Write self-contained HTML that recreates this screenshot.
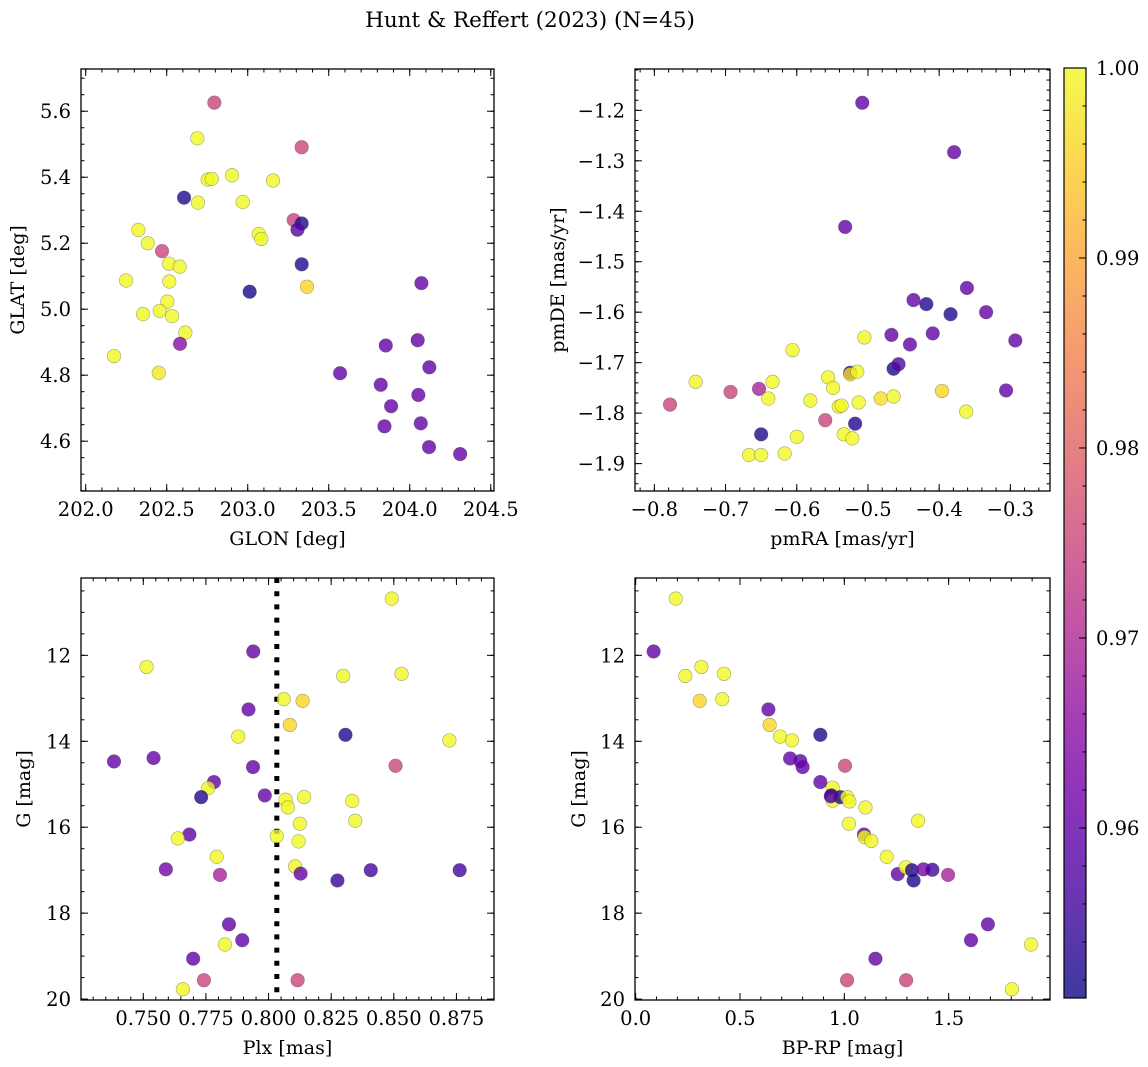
<!DOCTYPE html>
<html><head><meta charset="utf-8"><style>
html,body{margin:0;padding:0;background:#fff;}
svg{display:block;font-family:"DejaVu Serif","Liberation Serif",serif;}
</style></head><body>
<svg id="fig" width="1148" height="1067" viewBox="0 0 1148 1067" xmlns="http://www.w3.org/2000/svg">
<text x="530" y="27" text-anchor="middle" font-size="21.5">Hunt &amp; Reffert (2023) (N=45)</text>
<defs><linearGradient id="cbgrad" x1="0" y1="1" x2="0" y2="0"></linearGradient></defs>
</svg>
<script>
// ---- data (value codes: membership probability) ----
const p1Glon=[202.794,202.689,203.333,202.753,202.778,202.903,203.156,202.607,202.693,202.969,203.284,203.333,203.307,203.068,203.084,202.325,202.383,202.471,202.514,202.580,203.333,202.249,202.516,203.012,203.366,204.072,202.504,202.457,202.354,202.533,202.615,202.582,202.175,202.451,204.049,203.852,204.121,203.570,203.821,204.053,203.885,203.844,204.068,204.119,204.311];
const p1Glat=[5.626,5.518,5.491,5.393,5.395,5.406,5.390,5.338,5.323,5.325,5.270,5.260,5.241,5.228,5.213,5.240,5.200,5.176,5.138,5.129,5.136,5.087,5.084,5.053,5.068,5.079,5.023,4.995,4.985,4.979,4.929,4.895,4.858,4.807,4.906,4.890,4.824,4.806,4.771,4.740,4.706,4.645,4.654,4.582,4.561];
const p1Prob=[0.975,1,0.975,1,1,1,1,0.953,1,1,0.975,0.953,0.958,1,1,1,1,0.975,1,1,0.953,1,1,0.952,0.996,0.960,1,1,1,1,1,0.965,1,0.998,0.960,0.960,0.960,0.960,0.960,0.960,0.960,0.960,0.960,0.960,0.960];

const p2Pmra=[-0.508,-0.379,-0.532,-0.361,-0.436,-0.418,-0.384,-0.334,-0.505,-0.467,-0.409,-0.441,-0.293,-0.606,-0.464,-0.457,-0.525,-0.525,-0.515,-0.556,-0.742,-0.634,-0.549,-0.693,-0.653,-0.396,-0.306,-0.640,-0.581,-0.482,-0.464,-0.778,-0.541,-0.537,-0.513,-0.362,-0.560,-0.518,-0.650,-0.600,-0.534,-0.522,-0.667,-0.650,-0.617];
const p2Pmde=[-1.185,-1.283,-1.431,-1.552,-1.576,-1.584,-1.604,-1.600,-1.650,-1.645,-1.642,-1.664,-1.656,-1.675,-1.712,-1.703,-1.720,-1.723,-1.718,-1.729,-1.738,-1.738,-1.750,-1.758,-1.752,-1.756,-1.755,-1.771,-1.775,-1.771,-1.767,-1.783,-1.787,-1.785,-1.779,-1.797,-1.814,-1.821,-1.842,-1.847,-1.842,-1.850,-1.883,-1.883,-1.880];
const p2Prob=[0.960,0.960,0.960,0.960,0.960,0.953,0.953,0.960,1,0.960,0.960,0.960,0.960,1,0.953,0.958,0.953,0.996,1,1,1,1,1,0.975,0.969,0.996,0.960,1,1,0.997,1,0.975,1,1,1,1,0.975,0.953,0.953,1,1,1,1,1,1];

const p3Plx=[0.8492,0.7939,0.7513,0.8298,0.8531,0.8061,0.8136,0.7920,0.8085,0.8307,0.7879,0.8722,0.7383,0.7541,0.7938,0.8507,0.7782,0.7759,0.7731,0.7985,0.8068,0.8077,0.8142,0.8334,0.8346,0.8125,0.7684,0.7638,0.8033,0.8120,0.7793,0.7590,0.7806,0.8106,0.8128,0.8275,0.8408,0.8763,0.7842,0.7895,0.7826,0.7699,0.7742,0.8116,0.7658];
const p3G=[10.68,11.91,12.27,12.48,12.43,13.02,13.06,13.26,13.62,13.85,13.89,13.98,14.47,14.39,14.60,14.57,14.95,15.09,15.30,15.26,15.36,15.54,15.30,15.39,15.85,15.92,16.17,16.26,16.21,16.33,16.69,16.98,17.11,16.91,17.08,17.24,17.00,17.00,18.26,18.63,18.73,19.06,19.56,19.56,19.77];
const p3Prob=[1,0.960,1,1,1,1,0.996,0.960,0.996,0.953,1,1,0.960,0.960,0.960,0.975,0.960,1,0.953,0.960,1,1,1,1,1,1,0.960,1,1,1,1,0.962,0.969,1,0.960,0.955,0.956,0.956,0.960,0.960,1,0.960,0.975,0.975,1];
const p3Cut=[0.8033];

const p4Bprp=[0.192,0.086,0.238,0.315,0.423,0.307,0.415,0.636,0.642,0.692,0.749,0.885,0.740,0.789,0.800,1.003,0.885,0.944,0.938,0.944,0.981,1.014,1.024,1.101,1.353,1.022,1.094,1.097,1.129,1.203,1.256,1.294,1.324,1.332,1.379,1.422,1.497,1.688,1.607,1.895,1.149,1.013,1.296,1.803,0.935];
const p4G=[10.68,11.91,12.48,12.27,12.43,13.06,13.02,13.26,13.62,13.89,13.98,13.85,14.40,14.46,14.60,14.57,14.95,15.08,15.26,15.38,15.30,15.30,15.40,15.54,15.85,15.92,16.17,16.23,16.32,16.69,17.09,16.93,17.00,17.24,16.98,16.99,17.11,18.26,18.63,18.73,19.06,19.56,19.56,19.77,15.28];
const p4Prob=[1,0.960,1,1,1,0.996,1,0.960,0.996,1,1,0.953,0.960,0.960,0.960,0.975,0.960,1,0.953,1,0.953,1,1,1,1,1,0.960,1,1,1,0.960,1,0.953,0.953,0.962,0.956,0.969,0.960,0.960,1,0.960,0.975,0.975,1,0.958];

const cbTicks=[0.96,0.97,0.98,0.99,1.00];
const vmin=0.95105, vmax=1.0;

// ---- plasma colormap ----
const plasma=['#0d0887','#41049d','#6a00a8','#8f0da4','#b12a90','#cc4778','#e16462','#f2844b','#fca636','#fcce25','#f0f921'];
function hex(h){return [1,3,5].map(i=>parseInt(h.substr(i,2),16));}
function cmap(v){let t=(v-vmin)/(vmax-vmin);t=Math.max(0,Math.min(1,t));
  const f=t*10,i=Math.min(9,Math.floor(f)),r=f-i,a=hex(plasma[i]),b=hex(plasma[i+1]);
  return 'rgb('+a.map((c,k)=>Math.round(c+(b[k]-c)*r)).join(',')+')';}

const NS='http://www.w3.org/2000/svg';
const svg=document.getElementById('fig');
function mk(tag,attrs,parent){const e=document.createElementNS(NS,tag);for(const k in attrs)e.setAttribute(k,attrs[k]);(parent||svg).appendChild(e);return e;}
function fmt(v,d){return (v<0?'\u2212':'')+Math.abs(v).toFixed(d);}
const TF=19.5, LF=19;

function panel(cfg){
  const g=mk('g',{});
  
  
  const [L,T,R,B]=cfg.box;
  const sx=v=>L+(v-cfg.xlim[0])/(cfg.xlim[1]-cfg.xlim[0])*(R-L);
  const sy=cfg.invert? (v=>T+(v-cfg.ylim[0])/(cfg.ylim[1]-cfg.ylim[0])*(B-T))
                     : (v=>B-(v-cfg.ylim[0])/(cfg.ylim[1]-cfg.ylim[0])*(B-T));
  const clip='clip'+cfg.name;
  const cp=mk('clipPath',{id:clip},g);mk('rect',{x:L,y:T,width:R-L,height:B-T},cp);
  const pts=mk('g',{'clip-path':'url(#'+clip+')'},g);
  (cfg.vlines||[]).forEach(v=>{
    const ln=mk('line',{x1:sx(v),x2:sx(v),y1:T,y2:B,stroke:'#000','stroke-width':5,'stroke-dasharray':'5 8.2'},pts);
    
    
  });
  for(let i=0;i<cfg.x.length;i++){
    const c=mk('circle',{cx:sx(cfg.x[i]),cy:sy(cfg.y[i]),r:6.8,fill:cmap(cfg.c[i]),'fill-opacity':0.8,stroke:'rgba(60,60,60,0.45)','stroke-width':0.6},pts);
    
    
  }
  const fr=mk('rect',{x:L,y:T,width:R-L,height:B-T,fill:'none',stroke:'#000','stroke-width':1.3},g);
  
  
  const tk=mk('g',{stroke:'#000','stroke-width':1},g);
  function range(lim,step){const a=[];const s=Math.ceil(Math.min(...lim)/step-1e-6),e=Math.floor(Math.max(...lim)/step+1e-6);for(let k=s;k<=e;k++)a.push(+(k*step).toFixed(6));return a;}
  range(cfg.xlim,cfg.xminor).forEach(v=>{const x=sx(v);mk('line',{x1:x,x2:x,y1:B,y2:B-3.5},tk);mk('line',{x1:x,x2:x,y1:T,y2:T+3.5},tk);});
  range(cfg.ylim,cfg.yminor).forEach(v=>{const y=sy(v);mk('line',{x1:L,x2:L+3.5,y1:y,y2:y},tk);mk('line',{x1:R,x2:R-3.5,y1:y,y2:y},tk);});
  cfg.xticks.forEach(v=>{const x=sx(v);mk('line',{x1:x,x2:x,y1:B,y2:B-7},tk);mk('line',{x1:x,x2:x,y1:T,y2:T+7},tk);
    const t=mk('text',{x:x,y:B+25,'text-anchor':'middle','font-size':TF},g);t.textContent=fmt(v,cfg.xd);
    
    });
  cfg.yticks.forEach(v=>{const y=sy(v);mk('line',{x1:L,x2:L+7,y1:y,y2:y},tk);mk('line',{x1:R,x2:R-7,y1:y,y2:y},tk);
    const t=mk('text',{x:L-10,y:y+7,'text-anchor':'end','font-size':TF},g);t.textContent=fmt(v,cfg.yd);
    
    });
  const xt=mk('text',{x:(L+R)/2,y:B+54,'text-anchor':'middle','font-size':LF},g);xt.textContent=cfg.xlabel;
  
  
  const yx=cfg.ylx,yy=(T+B)/2;
  const yt=mk('text',{x:yx,y:yy,'text-anchor':'middle','font-size':LF,transform:'rotate(-90 '+yx+' '+yy+')'},g);yt.textContent=cfg.ylabel;
  
  
}

panel({name:'glon-glat-panel',box:[81,69,494,491],xlim:[201.971,204.52],ylim:[4.449,5.728],x:p1Glon,y:p1Glat,c:p1Prob,
  xticks:[202.0,202.5,203.0,203.5,204.0,204.5],yticks:[4.6,4.8,5.0,5.2,5.4,5.6],xminor:0.1,yminor:0.05,xd:1,yd:1,xlabel:'GLON [deg]',ylabel:'GLAT [deg]',ylx:24});
panel({name:'proper-motion-panel',box:[635,69,1050,491],xlim:[-0.8272,-0.2443],ylim:[-1.9543,-1.1181],x:p2Pmra,y:p2Pmde,c:p2Prob,
  xticks:[-0.8,-0.7,-0.6,-0.5,-0.4,-0.3],yticks:[-1.9,-1.8,-1.7,-1.6,-1.5,-1.4,-1.3,-1.2],xminor:0.02,yminor:0.02,xd:1,yd:1,xlabel:'pmRA [mas/yr]',ylabel:'pmDE [mas/yr]',ylx:564});
panel({name:'parallax-magnitude-panel',box:[81,578,494,1000],xlim:[0.72513,0.89],ylim:[10.2004,20.021],invert:true,x:p3Plx,y:p3G,c:p3Prob,vlines:p3Cut,
  xticks:[0.75,0.775,0.8,0.825,0.85,0.875],yticks:[12,14,16,18,20],xminor:0.005,yminor:0.5,xd:3,yd:0,xlabel:'Plx [mas]',ylabel:'G [mag]',ylx:30});
panel({name:'color-magnitude-panel',box:[635,578,1050,1000],xlim:[-0.0032,1.9856],ylim:[10.2004,20.021],invert:true,x:p4Bprp,y:p4G,c:p4Prob,
  xticks:[0,0.5,1.0,1.5],yticks:[12,14,16,18,20],xminor:0.1,yminor:0.5,xd:1,yd:0,xlabel:'BP-RP [mag]',ylabel:'G [mag]',ylx:585});

// ---- colorbar ----
const grad=document.getElementById('cbgrad');
plasma.forEach((c,i)=>mk('stop',{offset:(i*10)+'%','stop-color':c},grad));
const cbT=68,cbB=998,cbL=1064,cbR=1086;
const cy=v=>cbB-(v-vmin)/(vmax-vmin)*(cbB-cbT);
const cb=mk('g',{});


mk('rect',{x:cbL,y:cbT,width:cbR-cbL,height:cbB-cbT,fill:'url(#cbgrad)','fill-opacity':0.8},cb);
mk('rect',{x:cbL,y:cbT,width:cbR-cbL,height:cbB-cbT,fill:'none',stroke:'#000','stroke-width':1.2},cb);
for(let k=Math.ceil(vmin/0.002);k<=500;k++){const v=k*0.002,y=cy(v);mk('line',{x1:cbR,x2:cbR-3.5,y1:y,y2:y,stroke:'#000','stroke-width':1},cb);}
cbTicks.forEach(v=>{const y=cy(v);mk('line',{x1:cbR,x2:cbR-7,y1:y,y2:y,stroke:'#000','stroke-width':1},cb);
  const t=mk('text',{x:cbR+10,y:y+7,'font-size':TF},cb);t.textContent=v.toFixed(2);
  
  });
</script>
</body></html>
